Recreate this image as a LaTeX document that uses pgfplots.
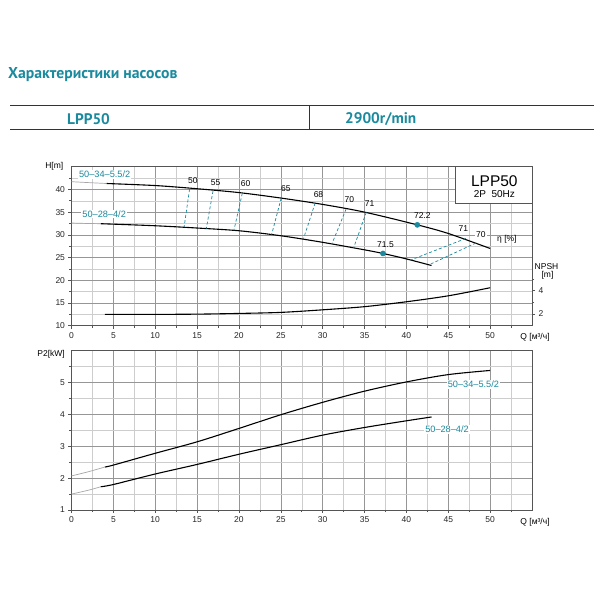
\documentclass[border=0pt]{standalone}
\usepackage{fontspec}
\setmainfont{Liberation Sans}
\newfontfamily\hdr{PT Sans}
\usepackage{pgfplots}
\pgfplotsset{compat=1.18}
\definecolor{tealc}{RGB}{26,138,158}
\definecolor{majg}{RGB}{150,150,150}
\definecolor{ming}{RGB}{205,205,205}
\definecolor{axg}{RGB}{85,85,85}
\pgfplotsset{
  pumpaxis/.style={
    scale only axis, width=460.5pt, anchor=south west,
    xmin=0, xmax=55, xtick={0,5,...,50}, minor xtick={2.5,7.5,...,52.5},
    grid=both, major grid style={majg, line width=0.5pt}, minor grid style={ming, line width=0.4pt},
    axis line style={axg, line width=0.8pt},
    tick align=outside, tick pos=left, tick style={axg, line width=0.6pt},
    major tick length=3pt, minor tick length=2pt,
    tick label style={font=\fontsize{8.5}{10}\selectfont, text=black!85},
    /pgf/number format/assume math mode=true,
    clip=false,
  },
  hcurve/.style={black, line width=1.1pt, smooth},
  gcurve/.style={black!35, line width=0.7pt, smooth},
  iso/.style={tealc, dashed, dash pattern=on 3pt off 2.2pt, line width=0.7pt},
}
\begin{document}
\begin{tikzpicture}
\path[use as bounding box, fill=white] (0pt,0pt) rectangle (600pt,600pt);
\begin{scope}[x=1pt,y=1pt]
\node[anchor=west, inner sep=0pt, text=tealc, font=\hdr\bfseries\fontsize{15.7}{16}\selectfont] at (8,525) {Характеристики насосов};
\draw[black!80, line width=1.2pt] (10,494.5) -- (594,494.5);
\draw[black!80, line width=1.2pt] (10,470.5) -- (594,470.5);
\draw[black!80, line width=0.8pt] (309,494.5) -- (309,470.5);
\node[anchor=west, inner sep=0pt, text=tealc, font=\hdr\bfseries\fontsize{15.3}{16}\selectfont] at (67,481) {LPP50};
\node[anchor=west, inner sep=0pt, text=tealc, font=\hdr\bfseries\fontsize{15.3}{16}\selectfont] at (345,481) {2900r/min};
\end{scope}

% ---------- H-Q chart ----------
\begin{axis}[pumpaxis, at={(71.5pt,274.3pt)}, height=159pt,
  ymin=10, ymax=45, ytick={10,15,...,40}, minor ytick={12.5,17.5,...,42.5}]
\draw[axg, line width=0.8pt, fill=white] (axis cs:45.9,36.9) rectangle (axis cs:55,45);
\node[font=\fontsize{15.5}{16}\selectfont] at (axis cs:50.5,41.8) {LPP50};
\node[font=\fontsize{10}{11}\selectfont] at (axis cs:50.5,39.05) {2P\ \ 50Hz};
% H curves
\addplot[gcurve] coordinates {(0,41.7) (2,41.5) (4.2,41.3)};
\addplot[hcurve] coordinates {(4.2,41.3) (10,40.85) (15,40.15) (20,39.3) (25,38.1) (30,36.7) (35,35.0) (41.3,32.2) (45,30.3) (50,27.0)};
\addplot[gcurve] coordinates {(0,32.6) (2,32.5) (3.5,32.45)};
\addplot[hcurve] coordinates {(3.5,32.45) (10,32.0) (15,31.5) (20,30.9) (25,29.8) (30,28.35) (35,26.7) (37.2,25.9) (40,24.7) (43,23.25)};
% iso-efficiency lines
\addplot[iso] coordinates {(14.1,40.05) (13.45,31.7)};
\addplot[iso] coordinates {(16.9,39.65) (16.1,31.35)};
\addplot[iso] coordinates {(20.4,39.15) (19.4,31.0)};
\addplot[iso] coordinates {(25.05,38.1) (23.9,30.05)};
\addplot[iso] coordinates {(29.1,37.0) (27.7,29.1)};
\addplot[iso] coordinates {(32.8,35.7) (31.1,28.0)};
\addplot[iso] coordinates {(35.2,34.95) (33.7,27.15)};
\addplot[iso] coordinates {(47.1,29.2) (40.5,24.45)};
\addplot[iso] coordinates {(48.3,28.2) (42.7,23.4)};
% best-efficiency points
\addplot[only marks, mark=*, mark size=2.6pt, tealc] coordinates {(41.3,32.2) (37.2,25.9)};
% labels
\node[font=\fontsize{8.5}{10}\selectfont] at (axis cs:14.5,42.0) {50};
\node[font=\fontsize{8.5}{10}\selectfont] at (axis cs:17.2,41.6) {55};
\node[font=\fontsize{8.5}{10}\selectfont] at (axis cs:20.8,41.2) {60};
\node[font=\fontsize{8.5}{10}\selectfont] at (axis cs:25.6,40.15) {65};
\node[font=\fontsize{8.5}{10}\selectfont] at (axis cs:29.5,38.9) {68};
\node[font=\fontsize{8.5}{10}\selectfont] at (axis cs:33.2,37.8) {70};
\node[font=\fontsize{8.5}{10}\selectfont] at (axis cs:35.6,36.9) {71};
\node[font=\fontsize{8.5}{10}\selectfont] at (axis cs:41.9,34.3) {72.2};
\node[font=\fontsize{8.5}{10}\selectfont] at (axis cs:37.5,27.9) {71.5};
\node[font=\fontsize{8.5}{10}\selectfont] at (axis cs:46.8,31.3) {71};
\node[font=\fontsize{8.5}{10}\selectfont, fill=white, inner sep=1pt] at (axis cs:48.9,30.0) {70};
\node[font=\fontsize{8.5}{10}\selectfont, anchor=west, inner sep=1pt] at (axis cs:50.7,28.94) {η [\%]};
\node[font=\fontsize{9.2}{10}\selectfont, text=tealc, fill=white, inner sep=1pt] at (axis cs:3.96,43.3) {50--34--5.5/2};
\node[font=\fontsize{9.2}{10}\selectfont, text=tealc, fill=white, inner sep=1pt] at (axis cs:3.9,34.6) {50--28--4/2};
\node[font=\fontsize{8.5}{10}\selectfont, anchor=east, inner sep=0pt] at ([xshift=-8pt]rel axis cs:0,1) {H[m]};
\node[font=\fontsize{8.5}{10}\selectfont, anchor=west, inner sep=0pt] at ([yshift=-12pt]axis cs:53.6,10) {Q [м³/ч]};
\node[font=\fontsize{8.5}{10}\selectfont, anchor=west, inner sep=0pt] at (axis cs:55.3,23.0) {NPSH};
\node[font=\fontsize{8.5}{10}\selectfont, inner sep=0pt] at (axis cs:56.85,21.2) {[m]};
\end{axis}

% ---------- NPSH axis ----------
\begin{axis}[scale only axis, width=460.5pt, height=159pt, anchor=south west, at={(71.5pt,274.3pt)},
  xmin=0, xmax=55, ymin=1, ymax=14.62,
  axis x line=none, axis y line*=right,
  axis line style={axg, line width=0.8pt},
  ytick={2,4}, minor ytick={3,5}, tick align=outside,
  tick style={axg, line width=0.6pt}, major tick length=3pt, minor tick length=2pt,
  tick label style={font=\fontsize{8.5}{10}\selectfont, text=black!85},
  /pgf/number format/assume math mode=true]
\addplot[hcurve] coordinates {(4,1.97) (10,1.97) (15,1.99) (20,2.05) (25,2.14) (30,2.36) (35,2.63) (40,3.05) (45,3.56) (50,4.25)};
\end{axis}

% ---------- P2-Q chart ----------
\begin{axis}[pumpaxis, at={(71.5pt,90pt)}, height=159.3pt,
  ymin=1, ymax=6, ytick={1,...,5}, minor ytick={1.5,2.5,...,5.5}]
\addplot[gcurve] coordinates {(0,2.07) (2,2.2) (4,2.35)};
\addplot[hcurve] coordinates {(4,2.35) (5,2.41) (10,2.78) (15,3.14) (20,3.56) (25,3.99) (30,4.38) (35,4.73) (40,5.02) (45,5.25) (50,5.38)};
\addplot[gcurve] coordinates {(0,1.5) (2,1.62) (3.5,1.73)};
\addplot[hcurve] coordinates {(3.5,1.73) (5,1.80) (10,2.13) (15,2.43) (20,2.75) (25,3.05) (30,3.35) (35,3.59) (40,3.80) (43,3.92)};
\node[font=\fontsize{9.2}{10}\selectfont, text=tealc, fill=white, inner sep=1pt] at (axis cs:48.0,4.94) {50--34--5.5/2};
\node[font=\fontsize{9.2}{10}\selectfont, text=tealc, fill=white, inner sep=1pt] at (axis cs:44.85,3.53) {50--28--4/2};
\node[font=\fontsize{8.5}{10}\selectfont, anchor=east, inner sep=0pt] at ([xshift=-6.5pt,yshift=-3.6pt]rel axis cs:0,1) {P2[kW]};
\node[font=\fontsize{8.5}{10}\selectfont, anchor=west, inner sep=0pt] at ([yshift=-12.7pt]axis cs:53.6,1) {Q [м³/ч]};
\end{axis}
\end{tikzpicture}
\end{document}
